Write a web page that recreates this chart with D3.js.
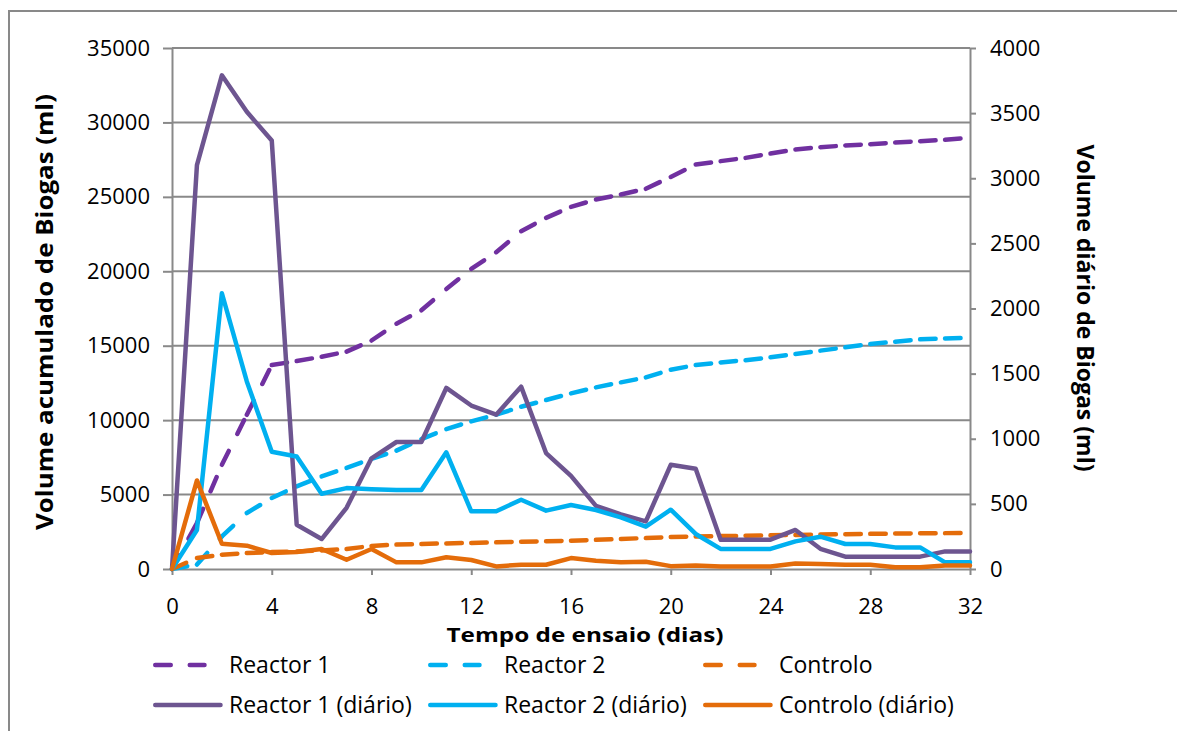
<!DOCTYPE html>
<html>
<head>
<meta charset="utf-8">
<script src="https://cdn.jsdelivr.net/npm/d3@7"></script>
<style>
  body { margin: 0; background: #fff; }
  svg { display: block; }
  text { font-family: "Open Sans", sans-serif; fill: #000; }
</style>
</head>
<body>
<svg id="chart" width="1177" height="731"></svg>
<script>
// Test day (x axis)
const days = [0, 1, 2, 3, 4, 5, 6, 7, 8, 9, 10, 11, 12, 13, 14, 15, 16,
              17, 18, 19, 20, 21, 22, 23, 24, 25, 26, 27, 28, 29, 30, 31, 32];

// Accumulated biogas volume (ml), left axis
const reactor1Acum = [0, 3090, 7000, 10360, 13700, 13970, 14260, 14600, 15350, 16480, 17380,
  18810, 20160, 21280, 22690, 23590, 24330, 24820, 25160, 25540, 26340, 27170, 27400,
  27620, 27910, 28180, 28340, 28450, 28540, 28650, 28740, 28830, 28970];
const reactor2Acum = [0, 300, 2190, 3760, 4770, 5550, 6220, 6790, 7400, 7950, 8730,
  9400, 9920, 10370, 10900, 11350, 11800, 12200, 12540, 12870, 13390, 13700, 13880,
  14030, 14220, 14440, 14670, 14890, 15110, 15270, 15430, 15490, 15540];
const controloAcum = [0, 740, 960, 1070, 1140, 1180, 1250, 1340, 1550, 1640, 1680,
  1720, 1750, 1790, 1830, 1870, 1900, 1960, 2020, 2080, 2150, 2190, 2210,
  2230, 2260, 2290, 2320, 2340, 2360, 2380, 2400, 2410, 2420];

// Daily biogas volume (ml), right axis
const reactor1Diario = [0, 3100, 3790, 3510, 3290, 340, 230, 470, 850, 975, 975,
  1390, 1255, 1185, 1400, 890, 715, 485, 420, 365, 800, 770, 225,
  225, 225, 300, 155, 95, 95, 95, 95, 135, 135];
const reactor2Diario = [0, 300, 2117, 1440, 900, 864, 578, 621, 613, 606, 606,
  896, 443, 443, 532, 448, 491, 453, 397, 325, 455, 269, 154,
  154, 154, 212, 248, 192, 192, 166, 166, 51, 51];
const controloDiario = [0, 680, 194, 179, 123, 131, 154, 71, 154, 51, 51,
  90, 69, 20, 33, 33, 84, 64, 51, 56, 22, 26, 20,
  20, 20, 43, 38, 33, 33, 13, 13, 26, 26];

// Axis ticks and labels
const xTicks = [0, 4, 8, 12, 16, 20, 24, 28, 32];
const leftTicks = [0, 5000, 10000, 15000, 20000, 25000, 30000, 35000];
const rightTicks = [0, 500, 1000, 1500, 2000, 2500, 3000, 3500, 4000];
const xTitle = "Tempo de ensaio (dias)";
const leftTitle = "Volume acumulado de Biogas (ml)";
const rightTitle = "Volume diário de Biogas (ml)";

const seriesNames = ["Reactor 1", "Reactor 2", "Controlo",
  "Reactor 1 (diário)", "Reactor 2 (diário)", "Controlo (diário)"];

// Styling of each series
const series = [
  { name: seriesNames[0], values: reactor1Acum,   axis: "left",  color: "#7030A0", dashed: true },
  { name: seriesNames[1], values: reactor2Acum,   axis: "left",  color: "#00B0F0", dashed: true },
  { name: seriesNames[2], values: controloAcum,   axis: "left",  color: "#E46C0A", dashed: true },
  { name: seriesNames[3], values: reactor1Diario, axis: "right", color: "#6D5590", dashed: false },
  { name: seriesNames[4], values: reactor2Diario, axis: "right", color: "#00B0F0", dashed: false },
  { name: seriesNames[5], values: controloDiario, axis: "right", color: "#E46C0A", dashed: false }
];

const svg = d3.select("#chart");
const gridColor = "#898989";
const lineW = 4.5;
const dash = "15.5 19";
const tickFont = 22;
const legendFont = 23;

const plot = { left: 172, right: 970, top: 48, bottom: 569 };
const x = d3.scaleLinear().domain([0, 32]).range([plot.left, plot.right]);
const yL = d3.scaleLinear().domain([0, 35000]).range([plot.bottom, plot.top]);
const yR = d3.scaleLinear().domain([0, 4000]).range([plot.bottom, plot.top]);

// Outer chart frame
svg.append("rect")
  .attr("x", 9).attr("y", 11).attr("width", 1250).attr("height", 800)
  .attr("fill", "none").attr("stroke", gridColor).attr("stroke-width", 2);

// Horizontal gridlines
svg.append("g").selectAll("line")
  .data(leftTicks.filter(t => t > 0))
  .join("line")
  .attr("x1", plot.left).attr("x2", plot.right)
  .attr("y1", d => yL(d)).attr("y2", d => yL(d))
  .attr("stroke", gridColor).attr("stroke-width", 2);

function styleAxis(g) {
  g.select(".domain").attr("stroke", gridColor).attr("stroke-width", 2);
  g.selectAll(".tick line").attr("stroke", gridColor).attr("stroke-width", 2);
  g.selectAll(".tick text").attr("font-size", tickFont).attr("fill", "#000")
    .style("font-family", '"Open Sans", sans-serif');
}

svg.append("g")
  .attr("transform", `translate(${plot.left},0)`)
  .call(d3.axisLeft(yL).tickValues(leftTicks).tickSize(9).tickSizeOuter(0)
    .tickPadding(13).tickFormat(d3.format("d")))
  .call(styleAxis);

svg.append("g")
  .attr("transform", `translate(${plot.right},0)`)
  .call(d3.axisRight(yR).tickValues(rightTicks).tickSize(6).tickSizeOuter(0)
    .tickPadding(14).tickFormat(d3.format("d")))
  .call(styleAxis);

svg.append("g")
  .attr("transform", `translate(0,${plot.bottom})`)
  .call(d3.axisBottom(x).tickValues(xTicks).tickSize(6).tickSizeOuter(0)
    .tickPadding(23).tickFormat(d3.format("d")))
  .call(styleAxis);

// Series lines; dashed series restart their dash pattern at every point
const lines = svg.append("g");
series.forEach(s => {
  const y = s.axis === "left" ? yL : yR;
  const pts = days.map((d, i) => [x(d), y(s.values[i])]);
  if (s.dashed) {
    const segs = d3.pairs(pts);
    lines.append("g").selectAll("path")
      .data(segs)
      .join("path")
      .attr("d", d => d3.line()(d))
      .attr("fill", "none")
      .attr("stroke", s.color)
      .attr("stroke-width", lineW)
      .attr("stroke-linecap", "round")
      .attr("stroke-dasharray", dash);
  } else {
    lines.append("path")
      .attr("d", d3.line()(pts))
      .attr("fill", "none")
      .attr("stroke", s.color)
      .attr("stroke-width", lineW)
      .attr("stroke-linejoin", "round")
      .attr("stroke-linecap", "round");
  }
});

// Axis titles
svg.append("text")
  .attr("x", 585).attr("y", 642)
  .attr("text-anchor", "middle")
  .attr("font-size", 20).attr("font-weight", "bold")
  .attr("textLength", 277).attr("lengthAdjust", "spacingAndGlyphs")
  .text(xTitle);

svg.append("text")
  .attr("transform", "translate(45,312) rotate(-90)")
  .attr("text-anchor", "middle").attr("dy", "0.35em")
  .attr("font-size", 23).attr("font-weight", "bold")
  .attr("textLength", 436).attr("lengthAdjust", "spacingAndGlyphs")
  .text(leftTitle);

svg.append("text")
  .attr("transform", "translate(1085,308) rotate(90)")
  .attr("text-anchor", "middle").attr("dy", "0.35em")
  .attr("font-size", 23).attr("font-weight", "bold")
  .text(rightTitle);

// Legend: two rows of three
const legend = svg.append("g");
series.forEach((s, i) => {
  const col = i % 3, row = Math.floor(i / 3);
  const lx = 153 + col * 275;
  const ly = 665 + row * 40;
  const g = legend.append("g");
  if (s.dashed) {
    g.append("line")
      .attr("x1", lx + 2.25).attr("x2", lx + 51.5)
      .attr("y1", ly).attr("y2", ly)
      .attr("stroke", s.color).attr("stroke-width", lineW)
      .attr("stroke-linecap", "round").attr("stroke-dasharray", dash);
  } else {
    g.append("line")
      .attr("x1", lx + 2.25).attr("x2", lx + 67.5)
      .attr("y1", ly).attr("y2", ly)
      .attr("stroke", s.color).attr("stroke-width", lineW)
      .attr("stroke-linecap", "round");
  }
  g.append("text")
    .attr("x", lx + 76).attr("y", ly).attr("dy", "0.35em")
    .attr("font-size", legendFont)
    .text(s.name);
});
</script>
</body>
</html>
